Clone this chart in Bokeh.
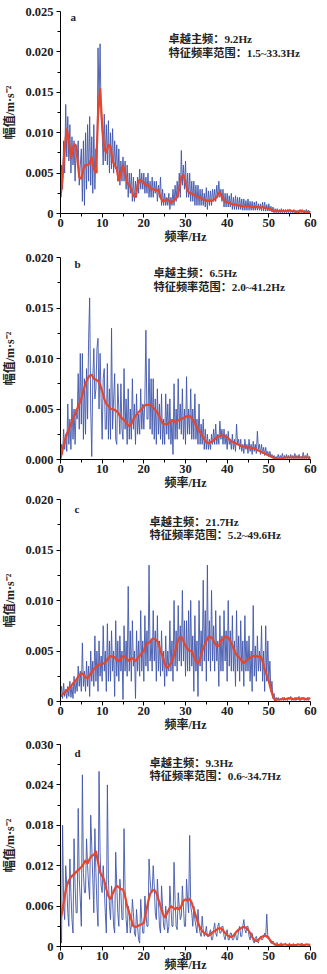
from bokeh.plotting import figure
from bokeh.layouts import column
from bokeh.models import Range1d, FixedTicker, Label
from bokeh.embed import file_html
from bokeh.resources import INLINE

# frequency grids (Hz): raw spectrum read at 0.25 Hz, smoothed curve at 0.5 Hz
freq_raw = [i * 0.25 for i in range(241)]
freq_smooth = [i * 0.5 for i in range(121)]

# ---- amplitudes, in 1e-3 m/s^2 ----
a_blue = [2, 6, 3, 9, 5, 13.5, 7, 12, 6.5, 11, 5, 9.5, 6, 9, 4, 8.5, 7, 9, 3.5, 6,
          8, 1.5, 9, 1, 10, 3, 11, 4, 12, 3.5, 9.5, 2.5, 11, 3, 8, 5, 20.5, 14, 21, 12,
          10, 6, 12.3, 6.5, 11, 6, 11.5, 5, 10, 5.5, 10.5, 5, 9, 5.5, 8.5, 4, 8, 3.5, 6.5, 4,
          7, 4, 6.5, 3, 6, 2, 5, 2.5, 5, 1.5, 4.5, 1.5, 4, 2, 4.5, 2.5, 5.5, 3, 5, 3,
          5, 2.5, 4.5, 2.5, 5, 2, 4, 2, 4.5, 2, 4, 2.5, 4, 1.5, 3.5, 2, 4.5, 1, 3, 1,
          2.5, 1, 2, 1, 2.5, 0.5, 2, 1, 3, 1, 3.5, 1.5, 4, 2, 5, 2, 7.8, 3.5, 6, 3,
          6.5, 2, 5, 2, 5, 1.5, 4, 1.5, 4, 1, 3.5, 1, 3.5, 1, 3, 1, 3, 1, 2.5, 0.8,
          3.2, 0.5, 2.8, 1, 2.8, 1, 3, 1.5, 3, 1.5, 3.5, 2, 4, 2, 3, 1.5, 3, 0.8, 2.5, 0.8,
          2.5, 0.8, 2.2, 0.8, 2.5, 0.5, 2, 0.5, 2.2, 0.5, 2, 0.5, 2, 0.5, 1.8, 0.4, 1.8, 0.4, 1.6, 0.4,
          1.8, 0.4, 1.5, 0.4, 1.5, 0.4, 1.4, 0.4, 1.5, 0.4, 1.2, 0.4, 1.2, 0.3, 1.4, 0.3, 1.4, 0.3, 1.1, 0.3,
          1.2, 0.3, 0.9, 0.2, 0.8, 0.1, 0.6, 0.1, 0.6, 0.1, 0.5, 0.1, 0.6, 0.1, 0.5, 0.1, 0.5, 0.1, 0.5, 0.1,
          0.5, 0.1, 0.4, 0.1, 0.5, 0.1, 0.4, 0.1, 0.4, 0.1, 0.5, 0.1, 0.5, 0.1, 0.4, 0.1, 0.5, 0.1, 0.4, 0.1,
          0.3]
a_red = [2.0, 4.5, 8.0, 10.5, 9.0, 6.8, 8.2, 8.6, 7.0, 4.5,
         4.3, 5.5, 6.0, 6.0, 6.2, 7.0, 5.5, 5.0, 12.0, 15.5,
         11.0, 8.0, 7.5, 8.5, 8.3, 6.5, 6.0, 5.5, 4.0, 5.0,
         6.0, 5.0, 3.8, 3.5, 3.0, 2.2, 2.0, 3.5, 4.2, 4.0,
         3.8, 3.5, 3.5, 3.2, 3.0, 3.0, 2.8, 3.0, 2.0, 1.5,
         1.6, 1.8, 1.6, 1.3, 1.5, 1.8, 2.0, 3.0, 4.5, 4.8,
         3.8, 2.8, 2.5, 2.5, 2.3, 2.2, 2.0, 2.0, 1.8, 1.7,
         1.6, 1.6, 1.6, 1.6, 1.8, 2.0, 2.6, 2.4, 1.8, 1.5,
         1.4, 1.3, 1.2, 1.1, 1.1, 1.0, 1.0, 0.9, 0.9, 0.9,
         0.9, 0.9, 0.8, 0.8, 0.8, 0.8, 0.7, 0.8, 0.7, 0.7,
         0.6, 0.5, 0.3, 0.3, 0.3, 0.3, 0.3, 0.3, 0.3, 0.3,
         0.4, 0.3, 0.3, 0.2, 0.2, 0.3, 0.3, 0.2, 0.2, 0.2,
         0.2]

b_blue = [0.3, 1.5, 0.5, 3, 1, 2.5, 0.8, 5.5, 1.5, 4, 1, 6, 2, 5, 1.5, 5, 4, 8.5, 3, 10.5,
          3.5, 10.5, 2, 8, 2.5, 9, 4, 12, 16, 5, 0.3, 8, 11, 6, 7, 11, 12, 5, 10.5, 6,
          2, 8, 9, 3, 3, 9.5, 2, 7, 2, 13, 3, 6, 8.5, 2, 1.5, 7.5, 5, 2.5, 7.5, 3,
          2, 9, 3, 6, 1.5, 7, 2, 5, 2, 8, 3, 5.5, 1.5, 6.5, 2.5, 4.5, 2.5, 7, 3, 5.5,
          3, 6, 12.8, 4, 4, 10, 3, 8, 2.5, 8, 2, 6, 1.5, 7, 2.5, 5.5, 2, 6.5, 1.5, 4,
          1.5, 6.5, 2.5, 5.5, 2, 6, 1.5, 4, 0.5, 7.5, 2, 5, 2, 8, 3, 5.5, 2.5, 7, 2, 5,
          1.5, 8.2, 2.5, 5, 2.5, 7, 2, 5, 2, 6.5, 2, 4, 1.5, 5.5, 1.5, 3.5, 1.5, 4, 1, 3,
          1, 2.5, 1, 2, 1, 2.5, 1.5, 3, 1.5, 3.5, 1.5, 2.5, 1.5, 3.8, 2, 3, 1.5, 3, 1.5, 2.5,
          1, 2.8, 1.5, 2, 1, 2.5, 1, 2, 0.8, 3.5, 1.5, 2, 1, 2, 0.8, 1.5, 0.6, 2, 1, 1.5,
          0.6, 2, 0.8, 1.5, 0.5, 1.8, 0.8, 1.5, 0.6, 2.8, 1, 1.5, 0.5, 1.5, 0.6, 1.2, 0.4, 1.2, 0.5, 0.8,
          0.3, 0.8, 0.3, 0.5, 0.2, 0.4, 0.1, 0.3, 0.1, 0.5, 0.1, 0.4, 0.1, 0.6, 0.1, 0.4, 0.1, 0.5, 0.1, 0.4,
          0.1, 0.5, 0.1, 0.4, 0.1, 0.6, 0.1, 0.4, 0.1, 0.5, 0.1, 0.3, 0.1, 0.7, 0.1, 0.4, 0.1, 0.6, 0.1, 0.3,
          0.2]
b_red = [0.1, 1.0, 1.8, 2.5, 3.0, 3.5, 4.0, 4.5, 5.0, 5.5,
         6.0, 6.8, 7.5, 8.0, 8.3, 8.4, 8.0, 7.9, 7.8, 7.4,
         6.8, 6.0, 5.5, 5.3, 5.0, 5.0, 4.9, 4.8, 4.5, 4.2,
         4.0, 3.8, 3.5, 3.3, 3.5, 4.0, 4.3, 4.6, 4.8, 5.0,
         5.3, 5.4, 5.4, 5.4, 5.3, 5.0, 4.8, 4.5, 4.0, 3.6,
         3.5, 3.5, 3.6, 3.8, 3.9, 3.7, 3.8, 3.9, 4.0, 4.1,
         4.2, 4.3, 4.3, 4.1, 3.8, 3.4, 3.0, 2.7, 2.4, 2.0,
         1.7, 1.6, 1.7, 1.8, 2.0, 2.2, 2.3, 2.4, 2.4, 2.3,
         2.2, 2.0, 1.8, 1.7, 1.6, 1.5, 1.4, 1.3, 1.3, 1.2,
         1.2, 1.2, 1.1, 1.1, 1.0, 0.9, 0.8, 0.7, 0.6, 0.5,
         0.4, 0.3, 0.2, 0.1, 0.1, 0.1, 0.1, 0.15, 0.2, 0.2,
         0.2, 0.2, 0.2, 0.2, 0.2, 0.2, 0.2, 0.2, 0.2, 0.2,
         0.1]

c_blue = [0.5, 1.5, 0.3, 1.8, 0.5, 1.2, 0.3, 1.5, 0.5, 2, 0.4, 1.5, 0.3, 2.5, 0.8, 2, 1, 3.5, 1.5, 3,
          1, 5.8, 1.5, 3, 1, 4, 1.5, 3.5, 0.5, 5, 2, 4, 1.5, 6.5, 2, 5, 1, 6, 2.5, 4.5,
          2, 7.5, 3, 5, 1, 7.7, 2, 6, 2, 7, 3, 5, 0.5, 8, 2.5, 6, 2, 6.5, 3, 5,
          0.2, 7.5, 3, 6, 2.5, 11.4, 3, 7, 2, 8, 3.5, 5, 0.3, 7, 3, 6, 2.5, 9, 3, 6,
          2, 8.5, 3.5, 7, 3, 13.5, 4, 6, 3, 9, 4, 7, 2, 8.5, 3, 6, 2.5, 7, 3, 5,
          1.5, 6.5, 2.5, 5, 3, 8, 3, 6, 2, 10, 3.5, 7, 3, 9.5, 4, 7.5, 3.5, 11, 4, 8,
          2.5, 8, 3, 9, 3, 10, 3.5, 6.5, 1, 8.5, 3, 6, 0.5, 10, 3.5, 7, 3, 12, 4, 9,
          2, 13.5, 4, 8, 3, 11, 4, 7.5, 3, 9, 4, 6, 1.5, 8.5, 3, 6.5, 3, 9, 4, 7,
          2, 10, 3.5, 7, 3, 8.5, 3, 6, 1.5, 9, 3, 6.5, 2, 8, 3, 6, 1.5, 8.5, 3, 6,
          3, 6.5, 2, 5, 1, 9.5, 2.5, 5.5, 2, 6.5, 3, 5, 3, 7.5, 2, 5, 1, 7.5, 2, 6,
          2, 4, 1, 2, 0.3, 0.8, 0.1, 0.4, 0.2, 0.4, 0.1, 0.3, 0.2, 0.4, 0.1, 0.4, 0.2, 0.3, 0.1, 0.4,
          0.2, 0.5, 0.1, 0.3, 0.2, 0.4, 0.1, 0.3, 0.2, 0.5, 0.1, 0.4, 0.2, 0.4, 0.1, 0.3, 0.2, 0.4, 0.1, 0.3,
          0.3]
c_red = [0.5, 0.7, 0.9, 1.1, 1.3, 1.5, 1.8, 2.0, 2.3, 2.6,
         2.8, 2.7, 2.4, 2.3, 2.6, 2.9, 3.2, 3.4, 3.6, 3.7,
         3.7, 3.8, 4.0, 4.3, 4.5, 4.4, 4.4, 4.1, 4.0, 4.2,
         4.5, 4.4, 4.2, 4.0, 4.3, 4.2, 4.0, 4.3, 4.5, 4.8,
         5.0, 5.7, 5.8, 5.9, 6.2, 6.2, 6.1, 5.8, 5.0, 4.5,
         3.8, 3.3, 3.5, 3.8, 4.2, 5.0, 5.8, 6.3, 6.4, 6.0,
         5.5, 5.2, 5.0, 5.0, 4.5, 4.0, 3.7, 4.2, 5.0, 5.5,
         6.0, 6.4, 6.4, 6.2, 5.8, 5.5, 5.5, 6.0, 6.2, 6.4,
         6.4, 6.2, 5.8, 5.3, 4.8, 4.5, 4.3, 4.0, 3.8, 4.0,
         4.2, 4.3, 4.5, 4.5, 4.5, 4.4, 4.5, 4.0, 3.2, 2.6,
         2.0, 1.2, 0.5, 0.1, 0.2, 0.2, 0.2, 0.3, 0.2, 0.3,
         0.3, 0.3, 0.2, 0.3, 0.3, 0.2, 0.3, 0.3, 0.2, 0.3,
         0.3]

d_blue = [3.5, 0.5, 18, 6, 4, 12, 9, 5, 3, 13, 8, 4, 2, 16, 9, 5, 5, 20.5, 10, 7,
          3, 25.5, 11, 8, 8, 16, 12, 9, 7, 19.5, 15, 10, 5, 17.5, 11, 6, 3, 26, 14, 9,
          8, 12, 9, 5, 2, 24, 10, 6, 4, 9, 7, 3, 2, 14, 9, 5, 3, 10, 8, 4,
          4, 17.5, 8.5, 4, 2, 6, 5, 2, 3, 7, 5, 2, 1.5, 5.5, 3, 1, 0.5, 7, 4, 2,
          2, 7.5, 5, 3, 3, 13, 10, 8, 8, 12, 9, 5, 4, 10, 7, 3, 2, 9, 6, 3,
          2.5, 6, 4, 2, 3, 9, 6, 3, 3, 12.5, 7, 3, 2.5, 8, 6, 4, 4.5, 9, 6, 3,
          3, 10, 7, 5, 16.5, 6, 5, 3, 6, 4, 3, 2, 5.5, 3, 2, 1.5, 4.5, 2.5, 1.5, 2,
          3, 1.5, 1.5, 2, 2.5, 1, 1, 2.5, 3.5, 2, 1.5, 3, 3.5, 2, 2, 3, 3, 1.5, 1, 2,
          2.5, 1, 1, 2, 2, 1, 1, 1.5, 2, 1, 1, 2.5, 3, 1.5, 1.5, 3, 4, 2.5, 2, 3,
          3, 1.5, 1, 2, 2, 0.8, 0.5, 1.2, 1.5, 0.8, 0.5, 1.2, 1.5, 1, 1, 1.5, 2, 1.5, 4.8, 1.5,
          1.5, 0.8, 0.5, 0.5, 0.8, 0.3, 0.2, 0.5, 0.6, 0.2, 0.2, 0.5, 0.5, 0.2, 0.2, 0.4, 0.5, 0.2, 0.2, 0.4,
          0.5, 0.2, 0.2, 0.4, 0.4, 0.1, 0.1, 0.3, 0.4, 0.2, 0.2, 0.4, 0.5, 0.1, 0.1, 0.3, 0.4, 0.2, 0.2, 0.3,
          0.2]
d_red = [4.0, 5.5, 7.5, 9.0, 9.8, 10.3, 10.6, 10.9, 11.2, 11.5,
         11.8, 12.2, 12.8, 12.3, 13.0, 13.5, 13.6, 14.2, 12.5, 11.0,
         10.5, 9.8, 8.5, 7.5, 7.0, 7.8, 8.5, 9.0, 8.8, 8.5,
         8.5, 7.5, 6.0, 5.0, 4.0, 3.0, 2.9, 3.0, 3.2, 3.3,
         3.5, 5.0, 6.5, 7.8, 8.3, 8.4, 8.0, 7.0, 6.0, 5.0,
         4.3, 4.8, 5.5, 6.0, 5.8, 5.5, 5.8, 5.5, 6.0, 6.8,
         7.0, 6.8, 7.1, 6.5, 5.5, 4.5, 3.5, 2.8, 2.3, 2.0,
         1.8, 1.6, 1.8, 2.1, 2.3, 2.5, 2.7, 2.7, 2.4, 2.0,
         1.7, 1.5, 1.4, 1.6, 2.0, 2.4, 2.6, 2.8, 2.9, 2.8,
         2.5, 2.0, 1.4, 1.0, 0.8, 1.0, 1.3, 1.5, 1.6, 1.5,
         1.2, 0.8, 0.5, 0.3, 0.2, 0.2, 0.2, 0.3, 0.3, 0.2,
         0.2, 0.2, 0.2, 0.2, 0.3, 0.3, 0.2, 0.2, 0.3, 0.3,
         0.2]

# ---- axes ticks and labels ----
x_ticks = [0, 10, 20, 30, 40, 50, 60]
x_minor = [5, 15, 25, 35, 45, 55]
a_yticks = [0, 0.005, 0.010, 0.015, 0.020, 0.025]
a_ylabels = ["0", "0.005", "0.010", "0.015", "0.020", "0.025"]
b_yticks = [0, 0.005, 0.010, 0.015, 0.020]
b_ylabels = ["0.000", "0.005", "0.010", "0.015", "0.020"]
c_yticks = [0, 0.005, 0.010, 0.015, 0.020]
c_ylabels = ["0", "0.005", "0.010", "0.015", "0.020"]
d_yticks = [0, 0.006, 0.012, 0.018, 0.024, 0.030]
d_ylabels = ["0", "0.006", "0.012", "0.018", "0.024", "0.030"]

panel_letters = ["a", "b", "c", "d"]
dominant = ["卓越主频：9.2Hz", "卓越主频：6.5Hz", "卓越主频：21.7Hz", "卓越主频：9.3Hz"]
ranges = ["特征频率范围：1.5~33.3Hz", "特征频率范围：2.0~41.2Hz",
          "特征频率范围：5.2~49.6Hz", "特征频率范围：0.6~34.7Hz"]

x_title = "频率/Hz"
y_title = "幅值/m·s⁻²"

BLUE = "#4056ac"
RED = "#e4462e"
LATIN = "Liberation Serif, Noto Sans CJK SC"

# layout per panel
layouts = [
    dict(h=247, top=11, bottom=34, ls=0, letter=(10, 197), t1=(108, 175), t2=(108, 161)),
    dict(h=246, top=10, bottom=34, ls=0, letter=(14, 196), t1=(93, 187), t2=(93, 173)),
    dict(h=242, top=6, bottom=34, ls=0, letter=(14, 193), t1=(89, 180), t2=(89, 167)),
    dict(h=239, top=9, bottom=28, ls=-5, letter=(14, 194), t1=(89, 184), t2=(89, 171)),
]

series = [(a_blue, a_red, a_yticks, a_ylabels),
          (b_blue, b_red, b_yticks, b_ylabels),
          (c_blue, c_red, c_yticks, c_ylabels),
          (d_blue, d_red, d_yticks, d_ylabels)]

figs = []
for i, (blue, red, yt, yl) in enumerate(series):
    L = layouts[i]
    p = figure(width=327, height=L["h"], output_backend="svg", toolbar_location=None,
               x_range=Range1d(0, 60), y_range=Range1d(0, yt[-1]),
               min_border_left=58, min_border_right=17,
               min_border_top=L["top"], min_border_bottom=L["bottom"])
    p.outline_line_color = None
    p.grid.grid_line_color = None
    p.background_fill_color = "white"
    p.border_fill_color = "white"

    yb = [v * 1e-3 for v in blue]
    yr = [v * 1e-3 for v in red]
    p.line(freq_raw, yb, line_color=BLUE, line_width=0.9)
    p.line(freq_smooth, yr, line_color=RED, line_width=2.2)

    yminor = [(yt[k] + yt[k + 1]) / 2 for k in range(len(yt) - 1)]
    p.xaxis.ticker = FixedTicker(ticks=x_ticks, minor_ticks=x_minor)
    p.yaxis.ticker = FixedTicker(ticks=yt, minor_ticks=yminor)
    p.yaxis.major_label_overrides = {t: l for t, l in zip(yt, yl)}

    for ax in (p.xaxis[0], p.yaxis[0]):
        ax.axis_line_color = "black"
        ax.axis_line_width = 1
        ax.major_tick_line_color = "black"
        ax.minor_tick_line_color = "black"
        ax.major_tick_in = 0
        ax.major_tick_out = 4
        ax.minor_tick_in = 0
        ax.minor_tick_out = 3
        ax.major_label_text_font = "Liberation Serif"
        ax.major_label_text_font_style = "bold"
        ax.major_label_text_font_size = "12.5px"
        ax.major_label_text_color = "#222222"
        ax.axis_label_text_font = LATIN
        ax.axis_label_text_font_style = "bold"
        ax.axis_label_text_font_size = "12px"
        ax.axis_label_text_color = "#222222"

    p.xaxis.major_label_standoff = 1
    p.xaxis.axis_label = x_title
    p.xaxis.axis_label_standoff = L["ls"]
    p.yaxis.major_label_standoff = 3
    p.yaxis.axis_label = y_title
    p.yaxis.axis_label_standoff = 5

    lx, ly = L["letter"]
    p.add_layout(Label(x=lx, y=ly, x_units="screen", y_units="screen",
                       text=panel_letters[i], text_font="Liberation Serif",
                       text_font_style="bold", text_font_size="11px",
                       text_baseline="middle", text_color="#222222"))
    for (tx, ty), txt in ((L["t1"], dominant[i]), (L["t2"], ranges[i])):
        p.add_layout(Label(x=tx, y=ty, x_units="screen", y_units="screen",
                           text=txt, text_font=LATIN, text_font_style="bold",
                           text_font_size="11.2px", text_baseline="middle",
                           text_color="#222222"))
    figs.append(p)

layout = column(*figs, spacing=0)
open("out.html", "w").write(file_html(layout, INLINE))
